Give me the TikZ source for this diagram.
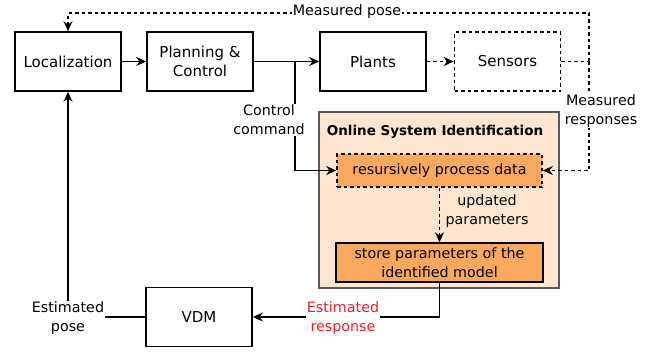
\documentclass[tikz,border=0pt]{standalone}
\usepackage{fontspec}
\setmainfont{DejaVu Sans}
\usetikzlibrary{arrows.meta}
\definecolor{peach}{HTML}{FDE5CF}
\definecolor{orng}{HTML}{F9A95E}
\definecolor{redtxt}{HTML}{F0202A}
\begin{document}
\begin{tikzpicture}[x=1pt,y=-1pt, line width=1.6pt,
 box/.style={draw, rectangle, minimum width=106pt, minimum height=59pt, align=center, font=\fontsize{15}{19}\selectfont, inner sep=0pt},
 lbl/.style={align=center, font=\fontsize{14.3}{19}\selectfont, fill=white, inner sep=1pt},
 arr/.style={-{Stealth[length=10pt,width=9pt]}},
 dsh/.style={dash pattern=on 3.5pt off 3pt}]
\useasboundingbox (0,0) rectangle (664,356);
\node[box] (loc) at (68,61.5) {Localization};
\node[box] (pc) at (200,61.5) {Planning \&\\Control};
\node[box] (plants) at (373,61.5) {Plants};
\node[box, dsh] (sens) at (507.5,61.5) {Sensors};
\node[draw=black!65, fill=peach, minimum width=240pt, minimum height=176pt, inner sep=0pt] (osi) at (439,200) {};
\node[font=\bfseries\fontsize{13.5}{16}\selectfont] (osit) at (435,132) {Online System Identification};
\node[draw, dsh, fill=orng, minimum width=205pt, minimum height=33pt, inner sep=0pt, font=\fontsize{14.3}{19}\selectfont] (proc) at (439.5,170.5) {resursively process data};
\node[draw, fill=orng, minimum width=207pt, minimum height=39pt, inner sep=0pt, align=center, font=\fontsize{14.3}{19}\selectfont] (store) at (439.5,262.5) {store parameters of the\\identified model};
\node[box] (vdm) at (199,317) {VDM};
\draw[arr] (loc) -- (pc);
\draw[arr] (pc) -- (plants);
\coordinate (br) at (295,61.5);
\draw[arr] (br) |- (proc.west);
\node[lbl] (cc) at (269,120) {Control\\command};
\draw[arr, dsh] (plants) -- (sens);
\coordinate (mr) at (589,61.5);
\draw[dsh] (sens) -- (mr);
\coordinate (mp) at (589,13);
\draw[arr,dsh] (mr) -- (mp) -| (loc.north);
\draw[arr,dsh] (mr) |- (proc.east);
\node[lbl] (mpl) at (347,12) {Measured pose};
\node[lbl] (mrl) at (601,111) {Measured\\responses};
\draw[arr,dsh] (proc) -- (store);
\node[align=center, font=\fontsize{14.3}{19}\selectfont] (upd) at (487,211) {updated\\parameters};
\draw[arr] (store.south) |- (vdm.east);
\node[lbl, text=redtxt] (er) at (343,318) {Estimated\\response};
\draw[arr] (vdm.west) -| (loc.south);
\node[lbl] (ep) at (68,318) {Estimated\\pose};
\end{tikzpicture}
\end{document}
